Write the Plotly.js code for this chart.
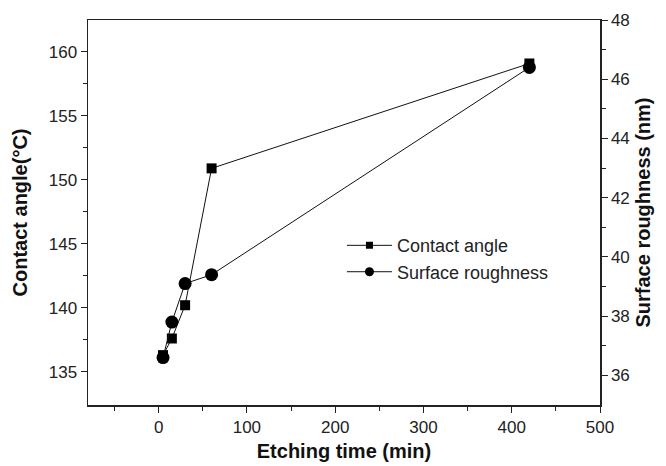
<!DOCTYPE html>
<html><head><meta charset="utf-8">
<script src="https://cdn.plot.ly/plotly-3.0.1.min.js"></script>
<style>html,body{margin:0;padding:0;background:#fff}#chart{width:666px;height:466px}</style>
</head><body><div id="chart"></div>
<script>
const etchingTime = [5, 15, 30, 60, 420];
const contactAngle = [136.3, 137.6, 140.2, 150.9, 159.1];
const surfaceRoughness = [36.6, 37.8, 39.1, 39.4, 46.4];
const seriesNames = ['Contact angle', 'Surface roughness'];

const traces = [
  {x: etchingTime, y: contactAngle, name: seriesNames[0], type: 'scatter', mode: 'lines+markers', showlegend: false,
   line: {color: '#111', width: 1}, marker: {symbol: 'square', size: 10, color: '#000'}},
  {x: etchingTime, y: surfaceRoughness, name: seriesNames[1], type: 'scatter', mode: 'lines+markers', showlegend: false,
   yaxis: 'y2', line: {color: '#111', width: 1}, marker: {symbol: 'circle', size: 13, color: '#000'}},
  {x: [null], y: [null], name: seriesNames[0], type: 'scatter', mode: 'lines+markers', hoverinfo: 'skip',
   line: {color: '#111', width: 1}, marker: {symbol: 'square', size: 7, color: '#000'}},
  {x: [null], y: [null], name: seriesNames[1], type: 'scatter', mode: 'lines+markers', hoverinfo: 'skip',
   line: {color: '#111', width: 1}, marker: {symbol: 'circle', size: 9, color: '#000'}}
];
const FF = 'Liberation Sans, Arial, sans-serif';
const tf = {family: FF, size: 17, color: '#222'};
const layout = {
  width: 666, height: 466,
  margin: {l: 88, r: 66, t: 20, b: 61},
  paper_bgcolor: '#fff', plot_bgcolor: '#fff',
  showlegend: true,
  legend: {x: 0.496, y: 0.462, xanchor: 'left', yanchor: 'top', bgcolor: 'rgba(0,0,0,0)', itemwidth: 45,
    font: {family: FF, size: 18, color: '#222'}, tracegroupgap: 0},
  xaxis: {range: [-80, 500], tickvals: [0, 100, 200, 300, 400, 500], ticks: 'outside', ticklen: 6, tickwidth: 1,
    tickcolor: '#222', showline: true, linecolor: '#222', linewidth: 1.5, mirror: true, showgrid: false, zeroline: false,
    tickfont: tf, minor: {tickvals: [-50, 50, 150, 250, 350, 450], ticks: 'outside', ticklen: 4, tickcolor: '#222', showgrid: false},
    title: {text: '<b>Etching time (min)</b>', font: {family: FF, size: 20, color: '#111'}, standoff: 8}},
  yaxis: {range: [132.4, 162.5], tickvals: [135, 140, 145, 150, 155, 160], ticks: 'outside', ticklen: 6, tickwidth: 1,
    tickcolor: '#222', showline: true, linecolor: '#222', linewidth: 1.5, showgrid: false, zeroline: false, tickfont: tf,
    minor: {tickvals: [137.5, 142.5, 147.5, 152.5, 157.5], ticks: 'outside', ticklen: 4, tickcolor: '#222', showgrid: false},
    title: {text: '<b>Contact angle(°C)</b>', font: {family: FF, size: 20, color: '#111'}, standoff: 15}},
  yaxis2: {overlaying: 'y', side: 'right', range: [35, 48], tickvals: [36, 38, 40, 42, 44, 46, 48], ticks: 'outside', ticklen: 6,
    tickwidth: 1, tickcolor: '#222', showline: true, linecolor: '#222', linewidth: 1.5, showgrid: false, zeroline: false, tickfont: tf,
    minor: {tickvals: [37, 39, 41, 43, 45, 47], ticks: 'outside', ticklen: 4, tickcolor: '#222', showgrid: false},
    title: {text: '<b>Surface roughness (nm)</b>', font: {family: FF, size: 20, color: '#111'}, standoff: 7}}
};
Plotly.newPlot('chart', traces, layout, {displayModeBar: false, staticPlot: true});
</script></body></html>
